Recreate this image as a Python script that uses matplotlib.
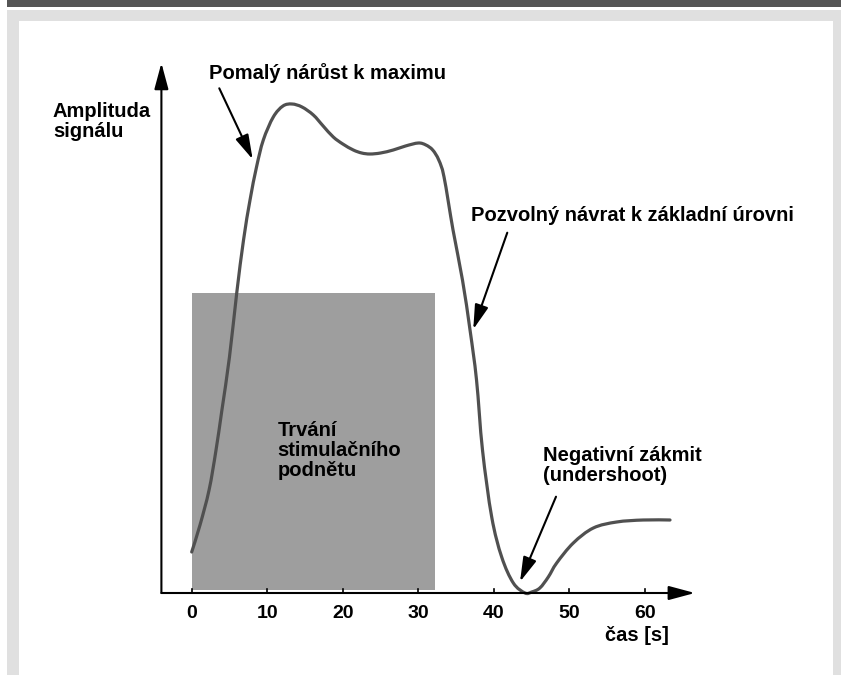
import matplotlib.pyplot as plt
from matplotlib.patches import Rectangle, FancyArrowPatch, PathPatch
from matplotlib.path import Path

# =========================
# DATA
# =========================

# time [s]
TIME = [0.0, 1.1, 2.3, 3.2, 4.0, 5.0, 5.96, 6.86, 7.72, 8.58, 9.48, 10.8,
        12.08, 13.28, 14.6, 16.1, 17.4, 18.74, 20.0, 21.39, 22.5, 23.6,
        25.0, 26.68, 28.3, 30.0, 31.0, 31.9, 32.7, 33.4, 34.59, 35.84,
        36.84, 37.7, 38.49, 39.71, 41.03, 42.57, 44.12, 45.0, 46.08, 47.2,
        48.31, 50.51, 53.16, 56.25, 59.77, 63.31]

# signal amplitude (arbitrary units, 0 = time axis)
AMPLITUDE = [0.41, 0.68, 1.03, 1.42, 1.83, 2.36, 3.00, 3.53, 3.93, 4.26,
             4.53, 4.76, 4.87, 4.89, 4.86, 4.78, 4.67, 4.56, 4.49, 4.43,
             4.40, 4.39, 4.40, 4.43, 4.47, 4.50, 4.48, 4.43, 4.33, 4.16,
             3.63, 3.13, 2.63, 2.13, 1.43, 0.76, 0.36, 0.10, 0.0, 0.01,
             0.05, 0.16, 0.30, 0.50, 0.65, 0.71, 0.73, 0.73]

STIM_START = 0.0
STIM_END = 32.2
STIM_LEVEL = 3.0

X_TICKS = [0, 10, 20, 30, 40, 50, 60]

LABEL_Y = ["Amplituda", "signálu"]
LABEL_X = "čas [s]"
LABEL_STIM = ["Trvání", "stimulačního", "podnětu"]
LABEL_RISE = "Pomalý nárůst k maximu"
LABEL_RETURN = "Pozvolný návrat k základní úrovni"
LABEL_UNDER = ["Negativní zákmit", "(undershoot)"]

# =========================
# STYLE
# =========================

plt.rcParams["font.family"] = ["Liberation Sans", "DejaVu Sans"]
plt.rcParams["font.weight"] = "bold"
FS = 14.5
CURVE_COLOR = "#505050"
STIM_COLOR = "#9e9e9e"

W, H = 841, 675
fig = plt.figure(figsize=(W / 100, H / 100), dpi=100)

# page frame, pixel coordinates
bg = fig.add_axes([0, 0, 1, 1], zorder=0)
bg.set_xlim(0, W)
bg.set_ylim(H, 0)
bg.axis("off")
bg.add_patch(Rectangle((7, 0), W - 7, 7.3, color="#555555", lw=0))
bg.add_patch(Rectangle((7, 10), W - 7, H - 10, color="#e0e0e0", lw=0))
bg.add_patch(Rectangle((19, 21), 814, H - 21, color="white", lw=0))

# chart axes: 0 s at px 191.7, 7.555 px per second; amplitude 0 at px 593, 100 px per unit
ax = fig.add_axes([0, 0, 1, 1], zorder=1)
ax.patch.set_alpha(0)
ax.set_xlim(-191.7 / 7.555, (W - 191.7) / 7.555)
ax.set_ylim((593 - H) / 100, 593 / 100)
ax.axis("off")

# stimulus box
ax.add_patch(Rectangle((STIM_START, 0.03), STIM_END - STIM_START, STIM_LEVEL - 0.03,
                       color=STIM_COLOR, lw=0, zorder=1))

# signal: smooth bezier path through the read points (Catmull-Rom handles)
pts = list(zip(TIME, AMPLITUDE))
verts = [pts[0]]
codes = [Path.MOVETO]
for i in range(len(pts) - 1):
    p0 = pts[i - 1] if i > 0 else pts[i]
    p1 = pts[i]
    p2 = pts[i + 1]
    p3 = pts[i + 2] if i + 2 < len(pts) else pts[i + 1]
    c1 = (p1[0] + (p2[0] - p0[0]) / 6, p1[1] + (p2[1] - p0[1]) / 6)
    c2 = (p2[0] - (p3[0] - p1[0]) / 6, p2[1] - (p3[1] - p1[1]) / 6)
    verts += [c1, c2, p2]
    codes += [Path.CURVE4] * 3
ax.add_patch(PathPatch(Path(verts, codes), facecolor="none", edgecolor=CURVE_COLOR,
                       lw=2.3, capstyle="round", joinstyle="round", zorder=3))

# =========================
# AXES WITH ARROWS
# =========================

x0 = -4.01
axis_style = "-|>,head_length=16,head_width=4.3"
ax.add_patch(FancyArrowPatch((x0, 0), (66.6, 0), arrowstyle=axis_style,
                             mutation_scale=1, color="black", lw=1.5,
                             shrinkA=0, shrinkB=0, zorder=4))
ax.add_patch(FancyArrowPatch((x0, 0), (x0, 5.30), arrowstyle=axis_style,
                             mutation_scale=1, color="black", lw=1.5,
                             shrinkA=0, shrinkB=0, zorder=4))

for t in X_TICKS:
    ax.plot([t, t], [0, 0.045], color="black", lw=1.2, zorder=4)
    ax.text(t, -0.253, str(t), ha="center", va="baseline", fontsize=14)

ax.text(63.22, -0.48, LABEL_X, ha="right", va="baseline", fontsize=FS)

for i, line in enumerate(LABEL_Y):
    ax.text(-18.36, 4.757 - 0.2 * i, line, ha="left", va="baseline", fontsize=FS)

# =========================
# ANNOTATIONS
# =========================

ax.text(2.33, 5.14, LABEL_RISE, ha="left", va="baseline", fontsize=FS)
ax.text(36.93, 3.72, LABEL_RETURN, ha="left", va="baseline", fontsize=FS)

for i, line in enumerate(LABEL_STIM):
    ax.text(11.38, 1.57 - 0.2 * i, line, ha="left", va="baseline", fontsize=FS, zorder=5)

for i, line in enumerate(LABEL_UNDER):
    ax.text(46.46, 1.322 - 0.2 * i, line, ha="left", va="baseline", fontsize=FS)

note_style = "-|>,head_length=15,head_width=4.2"
ARROWS = [
    ((3.65, 5.047), (8.07, 4.337)),
    ((41.77, 3.603), (37.27, 2.637)),
    ((48.22, 0.963), (43.46, 0.113)),
]
for start, tip in ARROWS:
    ax.add_patch(FancyArrowPatch(start, tip, arrowstyle=note_style,
                                 mutation_scale=1, color="black", lw=1.5,
                                 shrinkA=0, shrinkB=0, zorder=4))

fig.savefig("out.png", dpi=100)
